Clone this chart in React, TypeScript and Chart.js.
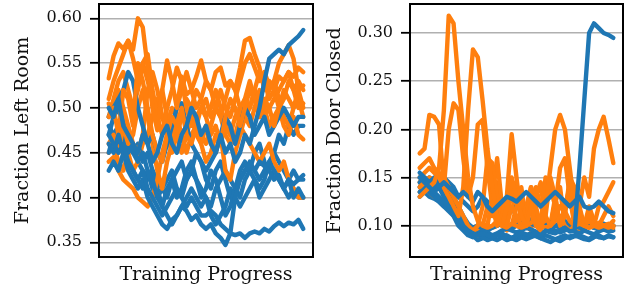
import React, { useEffect, useRef } from "react";
import { Chart, registerables } from "chart.js";

Chart.register(...registerables);

const BLUE = "#1f77b4";
const ORANGE = "#ff7f0e";

const trainingSteps = Array.from({ length: 41 }, (_, i) => i);

const leftYTicks = [0.35, 0.4, 0.45, 0.5, 0.55, 0.6];
const rightYTicks = [0.1, 0.15, 0.2, 0.25, 0.3];

// ---- Fraction Left Room ----
const leftBlue1 = [0.50, 0.49, 0.51, 0.48, 0.47, 0.46, 0.45, 0.47, 0.46, 0.44, 0.45, 0.47, 0.48, 0.46, 0.45, 0.47, 0.48, 0.50, 0.49, 0.47, 0.48, 0.46, 0.45, 0.47, 0.45, 0.46, 0.44, 0.45, 0.47, 0.46, 0.48, 0.50, 0.53, 0.555, 0.56, 0.565, 0.56, 0.57, 0.575, 0.58, 0.587];
const leftBlue2 = [0.47, 0.46, 0.45, 0.46, 0.44, 0.43, 0.42, 0.43, 0.41, 0.40, 0.39, 0.38, 0.39, 0.40, 0.41, 0.40, 0.39, 0.40, 0.39, 0.38, 0.38, 0.385, 0.38, 0.37, 0.365, 0.36, 0.358, 0.36, 0.355, 0.36, 0.362, 0.36, 0.365, 0.362, 0.368, 0.372, 0.368, 0.372, 0.37, 0.375, 0.365];
const leftBlue3 = [0.46, 0.45, 0.47, 0.45, 0.43, 0.42, 0.41, 0.42, 0.40, 0.39, 0.38, 0.37, 0.365, 0.375, 0.38, 0.39, 0.385, 0.375, 0.38, 0.37, 0.365, 0.37, 0.36, 0.355, 0.347, 0.36, 0.40, 0.42, 0.43, 0.435, 0.43, 0.44, 0.435, 0.43, 0.42, 0.425, 0.41, 0.42, 0.415, 0.42, 0.42];
const leftBlue4 = [0.49, 0.50, 0.51, 0.52, 0.54, 0.53, 0.50, 0.48, 0.46, 0.47, 0.45, 0.44, 0.46, 0.48, 0.50, 0.505, 0.48, 0.46, 0.45, 0.44, 0.43, 0.44, 0.45, 0.47, 0.49, 0.48, 0.46, 0.48, 0.50, 0.49, 0.47, 0.48, 0.49, 0.47, 0.48, 0.49, 0.50, 0.49, 0.48, 0.49, 0.49];
const leftBlue5 = [0.43, 0.44, 0.43, 0.45, 0.44, 0.43, 0.42, 0.41, 0.43, 0.42, 0.40, 0.41, 0.42, 0.43, 0.41, 0.40, 0.42, 0.43, 0.42, 0.41, 0.40, 0.39, 0.41, 0.42, 0.43, 0.42, 0.41, 0.42, 0.43, 0.44, 0.43, 0.42, 0.43, 0.44, 0.43, 0.42, 0.41, 0.42, 0.40, 0.41, 0.40];
const leftBlue6 = [0.48, 0.47, 0.46, 0.47, 0.45, 0.46, 0.44, 0.45, 0.43, 0.41, 0.40, 0.39, 0.41, 0.42, 0.40, 0.41, 0.43, 0.44, 0.42, 0.40, 0.41, 0.43, 0.42, 0.40, 0.38, 0.39, 0.41, 0.43, 0.44, 0.43, 0.42, 0.41, 0.42, 0.44, 0.45, 0.44, 0.43, 0.42, 0.43, 0.42, 0.425];
const leftBlue7 = [0.45, 0.47, 0.48, 0.49, 0.47, 0.45, 0.46, 0.44, 0.45, 0.43, 0.42, 0.41, 0.40, 0.42, 0.43, 0.44, 0.42, 0.43, 0.45, 0.44, 0.42, 0.41, 0.43, 0.44, 0.42, 0.40, 0.41, 0.40, 0.42, 0.43, 0.45, 0.46, 0.44, 0.43, 0.45, 0.47, 0.46, 0.48, 0.47, 0.48, 0.48];
const leftBlue8 = [0.47, 0.49, 0.50, 0.48, 0.46, 0.45, 0.44, 0.43, 0.42, 0.43, 0.41, 0.39, 0.38, 0.37, 0.38, 0.39, 0.40, 0.41, 0.40, 0.39, 0.40, 0.38, 0.37, 0.38, 0.39, 0.41, 0.40, 0.39, 0.40, 0.41, 0.42, 0.40, 0.41, 0.42, 0.43, 0.42, 0.41, 0.40, 0.41, 0.40, 0.40];

const leftOrange1 = [0.533, 0.558, 0.572, 0.566, 0.575, 0.565, 0.600, 0.590, 0.545, 0.50, 0.475, 0.52, 0.553, 0.53, 0.50, 0.535, 0.515, 0.52, 0.535, 0.553, 0.53, 0.52, 0.54, 0.545, 0.525, 0.53, 0.52, 0.545, 0.575, 0.578, 0.56, 0.545, 0.52, 0.53, 0.52, 0.535, 0.53, 0.54, 0.535, 0.545, 0.54];
const leftOrange2 = [0.51, 0.53, 0.545, 0.56, 0.575, 0.555, 0.53, 0.55, 0.56, 0.52, 0.49, 0.47, 0.50, 0.52, 0.545, 0.53, 0.50, 0.48, 0.49, 0.50, 0.51, 0.49, 0.50, 0.52, 0.50, 0.49, 0.51, 0.53, 0.55, 0.56, 0.545, 0.53, 0.54, 0.525, 0.53, 0.55, 0.56, 0.57, 0.555, 0.52, 0.50];
const leftOrange3 = [0.49, 0.50, 0.47, 0.52, 0.51, 0.48, 0.55, 0.53, 0.50, 0.47, 0.45, 0.44, 0.47, 0.49, 0.48, 0.50, 0.47, 0.46, 0.48, 0.50, 0.49, 0.47, 0.48, 0.46, 0.49, 0.51, 0.50, 0.48, 0.50, 0.52, 0.51, 0.49, 0.51, 0.50, 0.48, 0.50, 0.52, 0.51, 0.50, 0.52, 0.525];
const leftOrange4 = [0.46, 0.47, 0.45, 0.48, 0.46, 0.47, 0.50, 0.52, 0.49, 0.46, 0.43, 0.41, 0.44, 0.46, 0.47, 0.45, 0.47, 0.49, 0.47, 0.46, 0.48, 0.46, 0.45, 0.47, 0.43, 0.42, 0.45, 0.47, 0.49, 0.48, 0.50, 0.52, 0.50, 0.48, 0.49, 0.50, 0.48, 0.47, 0.49, 0.47, 0.465];
const leftOrange5 = [0.44, 0.445, 0.43, 0.42, 0.415, 0.41, 0.40, 0.395, 0.39, 0.40, 0.42, 0.45, 0.47, 0.46, 0.48, 0.47, 0.45, 0.47, 0.48, 0.46, 0.44, 0.45, 0.47, 0.46, 0.48, 0.47, 0.46, 0.48, 0.47, 0.46, 0.45, 0.44, 0.45, 0.46, 0.44, 0.43, 0.44, 0.42, 0.41, 0.40, 0.40];
const leftOrange6 = [0.505, 0.49, 0.52, 0.50, 0.48, 0.46, 0.45, 0.47, 0.52, 0.54, 0.52, 0.49, 0.47, 0.45, 0.47, 0.49, 0.51, 0.50, 0.48, 0.47, 0.46, 0.48, 0.50, 0.49, 0.47, 0.46, 0.47, 0.49, 0.51, 0.53, 0.51, 0.49, 0.50, 0.52, 0.53, 0.51, 0.49, 0.48, 0.50, 0.51, 0.49];
const leftOrange7 = [0.45, 0.46, 0.44, 0.43, 0.45, 0.43, 0.44, 0.46, 0.47, 0.49, 0.51, 0.49, 0.48, 0.50, 0.49, 0.47, 0.48, 0.50, 0.52, 0.51, 0.49, 0.50, 0.52, 0.50, 0.48, 0.47, 0.49, 0.50, 0.51, 0.50, 0.52, 0.54, 0.53, 0.51, 0.52, 0.50, 0.51, 0.53, 0.52, 0.50, 0.505];
const leftOrange8 = [0.49, 0.51, 0.53, 0.54, 0.52, 0.50, 0.52, 0.55, 0.53, 0.51, 0.50, 0.52, 0.49, 0.47, 0.50, 0.52, 0.54, 0.52, 0.50, 0.51, 0.53, 0.52, 0.50, 0.49, 0.51, 0.53, 0.52, 0.50, 0.49, 0.50, 0.52, 0.51, 0.49, 0.50, 0.51, 0.52, 0.53, 0.54, 0.52, 0.53, 0.52];

// ---- Fraction Door Closed ----
const rightBlue1 = [0.15, 0.145, 0.14, 0.135, 0.13, 0.125, 0.12, 0.11, 0.10, 0.095, 0.09, 0.088, 0.09, 0.092, 0.09, 0.088, 0.09, 0.092, 0.089, 0.087, 0.09, 0.093, 0.091, 0.09, 0.092, 0.09, 0.095, 0.093, 0.092, 0.095, 0.098, 0.094, 0.095, 0.16, 0.23, 0.30, 0.31, 0.305, 0.30, 0.298, 0.295];
const rightBlue2 = [0.155, 0.15, 0.145, 0.15, 0.14, 0.145, 0.14, 0.135, 0.13, 0.135, 0.13, 0.125, 0.135, 0.13, 0.12, 0.115, 0.12, 0.125, 0.13, 0.128, 0.125, 0.13, 0.135, 0.13, 0.125, 0.12, 0.125, 0.13, 0.135, 0.13, 0.125, 0.12, 0.125, 0.13, 0.12, 0.118, 0.12, 0.125, 0.12, 0.115, 0.113];
const rightBlue3 = [0.14, 0.145, 0.14, 0.135, 0.14, 0.13, 0.125, 0.12, 0.11, 0.10, 0.095, 0.092, 0.09, 0.088, 0.085, 0.087, 0.09, 0.088, 0.085, 0.087, 0.09, 0.088, 0.086, 0.088, 0.09, 0.087, 0.085, 0.083, 0.086, 0.088, 0.09, 0.087, 0.089, 0.09, 0.088, 0.086, 0.09, 0.088, 0.087, 0.09, 0.088];
const rightBlue4 = [0.135, 0.14, 0.135, 0.13, 0.125, 0.12, 0.115, 0.11, 0.105, 0.098, 0.093, 0.09, 0.092, 0.095, 0.093, 0.09, 0.092, 0.095, 0.097, 0.095, 0.093, 0.095, 0.098, 0.096, 0.094, 0.092, 0.094, 0.097, 0.095, 0.093, 0.095, 0.097, 0.094, 0.092, 0.095, 0.093, 0.091, 0.094, 0.096, 0.094, 0.095];
const rightBlue5 = [0.145, 0.14, 0.15, 0.145, 0.14, 0.142, 0.135, 0.13, 0.12, 0.11, 0.102, 0.098, 0.10, 0.097, 0.095, 0.098, 0.10, 0.102, 0.099, 0.097, 0.10, 0.103, 0.105, 0.102, 0.10, 0.098, 0.10, 0.103, 0.10, 0.098, 0.10, 0.102, 0.10, 0.098, 0.097, 0.10, 0.098, 0.096, 0.10, 0.098, 0.10];
const rightBlue6 = [0.13, 0.135, 0.13, 0.128, 0.125, 0.12, 0.118, 0.112, 0.105, 0.10, 0.095, 0.09, 0.085, 0.087, 0.089, 0.087, 0.085, 0.088, 0.09, 0.087, 0.085, 0.088, 0.09, 0.092, 0.089, 0.087, 0.09, 0.088, 0.086, 0.084, 0.087, 0.089, 0.09, 0.088, 0.086, 0.085, 0.088, 0.09, 0.087, 0.089, 0.088];
const rightBlue7 = [0.15, 0.148, 0.145, 0.14, 0.145, 0.15, 0.145, 0.14, 0.13, 0.125, 0.12, 0.115, 0.12, 0.13, 0.125, 0.12, 0.115, 0.11, 0.112, 0.115, 0.12, 0.118, 0.11, 0.105, 0.10, 0.102, 0.10, 0.098, 0.10, 0.103, 0.105, 0.10, 0.098, 0.10, 0.102, 0.10, 0.098, 0.10, 0.102, 0.10, 0.10];

const rightOrange1 = [0.13, 0.135, 0.14, 0.145, 0.16, 0.22, 0.318, 0.31, 0.25, 0.20, 0.15, 0.12, 0.105, 0.10, 0.098, 0.10, 0.105, 0.10, 0.098, 0.102, 0.10, 0.098, 0.10, 0.103, 0.105, 0.10, 0.098, 0.10, 0.11, 0.12, 0.115, 0.105, 0.10, 0.102, 0.10, 0.098, 0.10, 0.102, 0.10, 0.098, 0.10];
const rightOrange2 = [0.14, 0.145, 0.15, 0.148, 0.145, 0.14, 0.13, 0.12, 0.11, 0.14, 0.22, 0.283, 0.275, 0.23, 0.18, 0.14, 0.11, 0.10, 0.12, 0.15, 0.13, 0.11, 0.10, 0.12, 0.14, 0.12, 0.11, 0.10, 0.105, 0.11, 0.10, 0.095, 0.10, 0.105, 0.10, 0.098, 0.10, 0.103, 0.10, 0.10, 0.098];
const rightOrange3 = [0.175, 0.18, 0.215, 0.213, 0.205, 0.14, 0.20, 0.227, 0.22, 0.17, 0.13, 0.15, 0.205, 0.21, 0.16, 0.12, 0.10, 0.11, 0.13, 0.195, 0.15, 0.11, 0.10, 0.12, 0.10, 0.095, 0.12, 0.16, 0.20, 0.215, 0.20, 0.16, 0.12, 0.105, 0.10, 0.105, 0.10, 0.098, 0.10, 0.102, 0.10];
const rightOrange4 = [0.16, 0.165, 0.17, 0.16, 0.155, 0.15, 0.14, 0.13, 0.12, 0.11, 0.10, 0.095, 0.10, 0.12, 0.17, 0.165, 0.13, 0.11, 0.10, 0.12, 0.11, 0.10, 0.105, 0.14, 0.12, 0.10, 0.11, 0.15, 0.13, 0.10, 0.11, 0.15, 0.14, 0.12, 0.15, 0.13, 0.18, 0.20, 0.213, 0.19, 0.165];
const rightOrange5 = [0.135, 0.14, 0.135, 0.13, 0.128, 0.125, 0.12, 0.115, 0.11, 0.105, 0.10, 0.095, 0.09, 0.095, 0.10, 0.13, 0.17, 0.12, 0.10, 0.14, 0.145, 0.10, 0.12, 0.14, 0.11, 0.10, 0.15, 0.14, 0.12, 0.16, 0.17, 0.13, 0.10, 0.12, 0.10, 0.11, 0.10, 0.12, 0.125, 0.135, 0.145];
const rightOrange6 = [0.15, 0.155, 0.16, 0.155, 0.15, 0.145, 0.14, 0.13, 0.12, 0.10, 0.092, 0.09, 0.095, 0.10, 0.12, 0.11, 0.145, 0.10, 0.095, 0.10, 0.12, 0.14, 0.10, 0.095, 0.13, 0.145, 0.10, 0.10, 0.13, 0.10, 0.12, 0.14, 0.10, 0.095, 0.10, 0.12, 0.105, 0.10, 0.11, 0.12, 0.11];
const rightOrange7 = [0.145, 0.15, 0.148, 0.145, 0.14, 0.137, 0.13, 0.125, 0.115, 0.105, 0.10, 0.098, 0.10, 0.102, 0.10, 0.098, 0.10, 0.105, 0.12, 0.14, 0.10, 0.098, 0.10, 0.10, 0.102, 0.10, 0.098, 0.10, 0.125, 0.14, 0.10, 0.098, 0.102, 0.10, 0.105, 0.10, 0.098, 0.10, 0.102, 0.10, 0.105];

const leftBlueSeries = [leftBlue1, leftBlue2, leftBlue3, leftBlue4, leftBlue5, leftBlue6, leftBlue7, leftBlue8];
const leftOrangeSeries = [leftOrange1, leftOrange2, leftOrange3, leftOrange4, leftOrange5, leftOrange6, leftOrange7, leftOrange8];
const rightBlueSeries = [rightBlue1, rightBlue2, rightBlue3, rightBlue4, rightBlue5, rightBlue6, rightBlue7];
const rightOrangeSeries = [rightOrange1, rightOrange2, rightOrange3, rightOrange4, rightOrange5, rightOrange6, rightOrange7];

const FONT = "'DejaVu Serif', serif";

const boxPlugin = {
  id: "boxFrame",
  afterDraw(chart: any) {
    const { ctx, chartArea: a } = chart;
    ctx.save();
    ctx.strokeStyle = "#000";
    ctx.lineWidth = 2;
    ctx.strokeRect(a.left, a.top, a.right - a.left, a.bottom - a.top);
    ctx.restore();
  },
};

function buildDatasets(blue: number[][], orange: number[][]) {
  const out: any[] = [];
  const n = Math.max(blue.length, orange.length);
  for (let k = 0; k < n; k++) {
    [[blue[k], BLUE], [orange[k], ORANGE]].forEach(([vals, color]: any) => {
      if (!vals) return;
      out.push({
        data: vals.map((v: number, i: number) => ({ x: trainingSteps[i], y: v })),
        borderColor: color,
        backgroundColor: color,
        borderWidth: 4.4,
        pointRadius: 0,
        tension: 0,
        borderCapStyle: "round",
        borderJoinStyle: "round",
        fill: false,
      });
    });
  }
  return out;
}

type PanelProps = {
  width: number;
  left: number;
  axisWidth: number;
  padRight: number;
  titlePad: number;
  yMin: number;
  yMax: number;
  ticks: number[];
  yTitle: string;
  blue: number[][];
  orange: number[][];
};

function Panel(p: PanelProps) {
  const ref = useRef<HTMLCanvasElement | null>(null);
  useEffect(() => {
    if (!ref.current) return;
    const last = trainingSteps[trainingSteps.length - 1];
    const chart = new Chart(ref.current, {
      type: "line",
      data: { datasets: buildDatasets(p.blue, p.orange) },
      plugins: [boxPlugin],
      options: {
        animation: false,
        responsive: false,
        layout: { padding: { left: 0, right: p.padRight, top: 4, bottom: 0 } },
        plugins: { legend: { display: false }, tooltip: { enabled: false } },
        scales: {
          x: {
            type: "linear",
            min: -0.05 * last,
            max: last * 1.05,
            grid: { display: false },
            border: { display: false },
            ticks: { display: false },
            title: {
              display: true,
              text: "Training Progress",
              color: "#111",
              font: { family: FONT, size: 19 },
              padding: { top: 0, bottom: 5 },
            },
            afterFit: (axis: any) => {
              axis.height = 34;
              axis.paddingLeft = 0;
              axis.paddingRight = 0;
            },
          },
          y: {
            type: "linear",
            min: p.yMin,
            max: p.yMax,
            afterBuildTicks: (axis: any) => {
              axis.ticks = p.ticks.map((v) => ({ value: v }));
            },
            ticks: {
              padding: 8,
              color: "#111",
              font: { family: FONT, size: 16 },
              callback: (v: any) => Number(v).toFixed(2),
            },
            grid: {
              color: "#b0b0b0",
              lineWidth: 1.6,
              drawTicks: true,
              tickLength: 9,
              tickColor: "#000",
              tickWidth: 1.8,
            },
            border: { display: false },
            title: {
              display: true,
              text: p.yTitle,
              color: "#111",
              font: { family: FONT, size: 19 },
              padding: { top: p.titlePad, bottom: 0 },
            },
            afterFit: (axis: any) => {
              axis.width = p.axisWidth;
              axis.paddingTop = 0;
              axis.paddingBottom = 0;
            },
          },
        },
      },
    } as any);
    return () => chart.destroy();
  }, []);
  return (
    <canvas
      ref={ref}
      width={p.width}
      height={291}
      style={{ position: "absolute", left: p.left, top: 0, width: p.width, height: 291 }}
    />
  );
}

export default function App() {
  return (
    <div style={{ position: "absolute", left: 0, top: 0, width: 626, height: 291, background: "#fff" }}>
      <Panel
        width={320}
        left={0}
        axisWidth={99}
        padRight={7}
        titlePad={12}
        yMin={0.3336}
        yMax={0.616}
        ticks={leftYTicks}
        yTitle="Fraction Left Room"
        blue={leftBlueSeries}
        orange={leftOrangeSeries}
      />
      <Panel
        width={306}
        left={320}
        axisWidth={90}
        padRight={3}
        titlePad={4}
        yMin={0.0675}
        yMax={0.3301}
        ticks={rightYTicks}
        yTitle="Fraction Door Closed"
        blue={rightBlueSeries}
        orange={rightOrangeSeries}
      />
    </div>
  );
}
